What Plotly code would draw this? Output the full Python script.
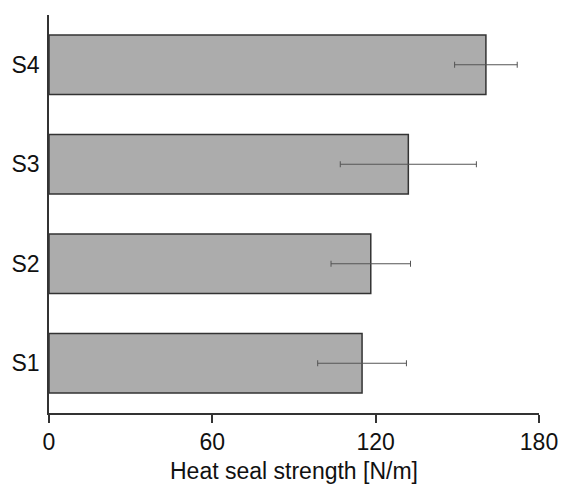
import plotly.graph_objects as go

categories = ["S1", "S2", "S3", "S4"]
values = [115.0, 118.2, 132.0, 160.5]
errors = [16.3, 14.6, 25.0, 11.5]
x_ticks = [0, 60, 120, 180]
x_title = "Heat seal strength [N/m]"

fig = go.Figure()
fig.add_trace(go.Bar(
    y=categories, x=values, orientation="h", width=0.6,
    marker=dict(color="#acacac", line=dict(color="#333333", width=1.5)),
    error_x=dict(type="data", array=errors, visible=True, color="#555555", thickness=1, width=3),
))
fig.update_layout(
    width=561, height=485,
    margin=dict(l=49, r=22, t=15, b=72),
    plot_bgcolor="white", paper_bgcolor="white",
    font=dict(family="Liberation Sans, Arial, sans-serif", color="#111111", size=20),
    showlegend=False,
    bargap=0.4,
)
fig.update_xaxes(
    range=[0, 180], tickvals=x_ticks, ticktext=[str(v) for v in x_ticks],
    showline=True, linecolor="#333333", linewidth=1.5,
    ticks="outside", ticklen=8, tickcolor="#333333", tickwidth=1.5,
    showgrid=False, zeroline=False, automargin=False,
    tickfont=dict(size=23),
    title=dict(text=x_title, font=dict(size=23), standoff=9),
)
fig.update_yaxes(
    range=[-0.5, 3.5], categoryorder="array", categoryarray=categories,
    showline=True, linecolor="#333333", linewidth=1.5,
    ticks="", showgrid=False, zeroline=False, automargin=False,
    tickfont=dict(size=23), ticklabelstandoff=3,
)
fig.write_html(
    "out.html",
    config={"displayModeBar": False},
    post_script="document.body.style.margin='0px';document.body.style.overflow='hidden';",
)
